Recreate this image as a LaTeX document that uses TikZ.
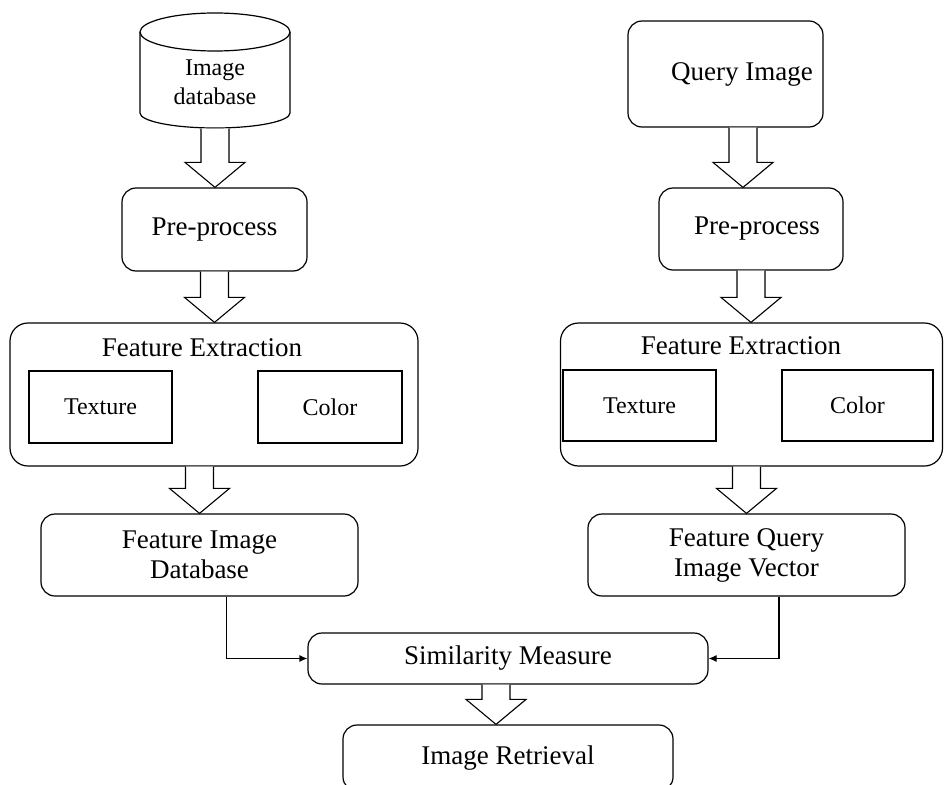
\documentclass[tikz,border=0pt]{standalone}
\usepackage{fontspec}
\setmainfont{Liberation Serif}
\usetikzlibrary{calc, arrows.meta}

\tikzset{
  proc/.style={draw, rounded corners=14pt, line width=1.2pt, align=center, font=\fontsize{27}{30}\selectfont},
  feat/.style={draw, line width=1.2pt, font=\fontsize{24}{28}\selectfont},
  blk/.style={draw, line width=1.1pt, fill=white, to path={
      let \p1=(\tikztostart), \p2=(\tikztotarget) in
      (\x1-14,\y1) -- (\x1-14,\y2+25) -- (\x1-30,\y2+25) -- (\x1,\y2)
      -- (\x1+30,\y2+25) -- (\x1+14,\y2+25) -- (\x1+14,\y1)}},
}

\begin{document}
\begin{tikzpicture}[x=1pt, y=-1pt, line width=1.2pt]
      \useasboundingbox (0,0) rectangle (944,784);

      % database cylinder
      \draw (140,32) -- (140,113) arc[start angle=180, end angle=360, x radius=75pt, y radius=15pt] -- (290,32);
      \draw (215,32) ellipse[x radius=75pt, y radius=19pt];
      \node[align=center, font=\fontsize{24}{29}\selectfont, minimum width=150pt, minimum height=92pt] (db) at (215,82) {Image\\database};

      \node[proc, minimum width=185pt, minimum height=83pt] (pp1) at (214.5,229.5) {Pre-process};
      \node[proc, rounded corners=18pt, minimum width=408pt, minimum height=143pt] (fe1) at (214,394.5) {};
      \node[font=\fontsize{27}{30}\selectfont] (fe1t) at (202,348) {Feature Extraction};
      \node[feat, minimum width=143pt, minimum height=72pt] (tex1) at (100.5,407) {Texture};
      \node[feat, minimum width=144pt, minimum height=72pt] (col1) at (330,407) {Color};
      \node[proc, minimum width=317pt, minimum height=82pt] (fid) at (199.5,555) {Feature Image\\Database};

      \node[proc, minimum width=195pt, minimum height=106pt] (qi) at (725.5,74) {\hspace*{33pt}Query Image};
      \node[proc, minimum width=184pt, minimum height=82pt] (pp2) at (751,229) {\hspace*{12pt}Pre-process};
      \node[proc, rounded corners=18pt, minimum width=382pt, minimum height=143pt] (fe2) at (751.5,394.5) {};
      \node[font=\fontsize{27}{30}\selectfont] (fe2t) at (741,346) {Feature Extraction};
      \node[feat, line width=1.8pt, minimum width=153pt, minimum height=71pt] (tex2) at (639.5,405.5) {Texture};
      \node[feat, line width=1.8pt, minimum width=151pt, minimum height=71pt] (col2) at (857.5,405.5) {Color};
      \node[proc, minimum width=317pt, minimum height=82pt] (fqv) at (746.5,555) {Feature Query\\Image Vector};

      \node[proc, minimum width=400pt, minimum height=51pt] (sim) at (508,658.5) {Similarity Measure};
      \node[proc, minimum width=330pt, minimum height=66pt] (ret) at (508,758) {Image Retrieval};

      % hollow block arrows
      \path[blk] (db.south) to (pp1.north);
      \path[blk] (pp1.south) to (fe1.north);
      \path[blk] (fid.north |- fe1.south) to (fid.north);
      \path[blk] ($(pp2.north |- qi.south)+(-8,0)$) to (pp2.north);
      \path[blk] (pp2.south) to (fe2.north);
      \path[blk] (fqv.north |- fe2.south) to (fqv.north);
      \path[blk] ($(sim.south)+(-12,0)$) to ($(ret.north)+(-12,0)$);

      \draw[-{Latex[length=8pt,width=7pt]}] ($(fid.south)+(27,0)$) |- (sim.west);
      \draw[-{Latex[length=8pt,width=7pt]}] ($(fqv.south)+(32.5,0)$) |- (sim.east);
    \end{tikzpicture}
\end{document}
